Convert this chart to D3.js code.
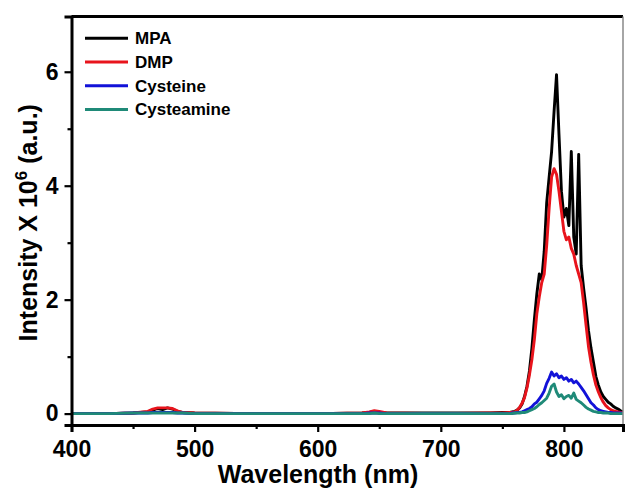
<!DOCTYPE html>
<html><head><meta charset="utf-8">
<script src="https://cdn.jsdelivr.net/npm/d3@7"></script>
<style>body{margin:0;background:#fff}svg{display:block}text{font-family:"Liberation Sans",Arial,sans-serif;font-weight:bold;fill:#000}</style>
</head><body><svg id="c" width="625" height="491"></svg>
<script>
const wavelengths = [400,430,450,462,466,470,474,478,482,486,490,500,550,600,636,642,646,650,656,700,740,750,
756,758,760,762,764,766,768,770,772,774,776,778,780,782,784,786,788,790,792,794,796,798,800,802,804,806,808,810,812,814,816,818,820,822,824,826,828,830,832,834,836,838,840,842,844,846,848];
const mpa = [0,0,0.01,0.03,0.06,0.09,0.07,0.1,0.08,0.04,0.02,0.01,0,0,0.01,0.02,0.04,0.02,0.01,0.01,0.01,0.02,
0.02,0.03,0.04,0.06,0.1,0.17,0.3,0.48,0.75,1.15,1.65,2.1,2.45,2.35,2.85,3.7,4.15,4.6,5.3,5.95,4.9,3.9,3.45,3.6,3.3,4.6,3.1,2.8,4.55,2.6,2.2,1.85,1.45,1.15,0.9,0.65,0.5,0.38,0.3,0.25,0.2,0.17,0.13,0.1,0.08,0.05,0.03];
const dmp = [0,0,0.01,0.04,0.08,0.1,0.1,0.1,0.09,0.05,0.02,0.01,0,0,0.01,0.03,0.05,0.04,0.01,0,0.01,0.01,
0.02,0.02,0.03,0.06,0.11,0.18,0.28,0.45,0.68,0.95,1.3,1.75,2.05,2.3,2.45,2.95,3.6,4.15,4.3,4.2,3.9,3.55,3.2,3.05,3.1,2.9,2.8,2.6,2.45,2.3,1.95,1.55,1.17,0.9,0.68,0.5,0.38,0.28,0.2,0.14,0.1,0.07,0.05,0.04,0.03,0.02,0.01];
const cysteine = [0,0,0.01,0.01,0.02,0.02,0.02,0.02,0.02,0.01,0.01,0,0,0,0,0.01,0.01,0.01,0,0,0,0,
0,0.01,0.01,0.02,0.02,0.03,0.05,0.07,0.09,0.12,0.17,0.2,0.26,0.32,0.4,0.53,0.62,0.73,0.66,0.7,0.63,0.66,0.6,0.63,0.57,0.6,0.54,0.57,0.52,0.46,0.4,0.33,0.26,0.19,0.15,0.1,0.07,0.05,0.04,0.03,0.02,0.02,0.01,0.01,0.01,0.01,0];
const cysteamine = [0,0,0.01,0.01,0.01,0.01,0.01,0.01,0.01,0.01,0.01,0,0,0,0,0,0.01,0,0,0,0,0,
0,0,0.01,0.01,0.01,0.02,0.02,0.03,0.05,0.07,0.09,0.12,0.16,0.19,0.23,0.27,0.36,0.48,0.52,0.38,0.3,0.33,0.26,0.3,0.32,0.27,0.36,0.25,0.22,0.19,0.15,0.11,0.08,0.06,0.04,0.03,0.02,0.02,0.01,0.01,0.01,0,0,0,0,0,0];
const seriesNames = ["MPA","DMP","Cysteine","Cysteamine"];
const seriesColors = ["#000000","#e8141c","#1212d8","#1f8a78"];
const xTicks = [400,500,600,700,800];
const yTicks = [0,2,4,6];

const seriesData = [mpa,dmp,cysteine,cysteamine];
const svg = d3.select("#c");
const L=71.5, R=623, T=16.5, B=425;
const x = d3.scaleLinear().domain([400,848]).range([L,R]);
const y = d3.scaleLinear().domain([-0.2,6.97]).range([B,T]);

const line = d3.line().x(d=>x(d[0])).y(d=>y(d[1]));
svg.append("defs").append("clipPath").attr("id","clip").append("rect").attr("x",L).attr("y",T).attr("width",R-L).attr("height",B-T);
const g = svg.append("g").attr("clip-path","url(#clip)");
seriesData.forEach((vals,i)=>{
  g.append("path").datum(wavelengths.map((w,j)=>[w,vals[j]]))
   .attr("d",line).attr("fill","none").attr("stroke",seriesColors[i])
   .attr("stroke-width",2.9).attr("stroke-linejoin","round");
});

// frame
svg.append("line").attr("x1",L).attr("x2",R).attr("y1",T).attr("y2",T).attr("stroke","#000").attr("stroke-width",3);
svg.append("line").attr("x1",R).attr("x2",R).attr("y1",T).attr("y2",B).attr("stroke","#888").attr("stroke-width",1.5);

// axes
const xAxis = d3.axisBottom(x).tickValues(xTicks).tickSize(7).tickPadding(9).tickFormat(d3.format("d"));
const xg = svg.append("g").attr("transform",`translate(0,${B})`).call(xAxis);
const xMinor = d3.axisBottom(x).tickValues([450,550,650,750]).tickSize(4).tickFormat("");
const xmg = svg.append("g").attr("transform",`translate(0,${B})`).call(xMinor);
const yAxis = d3.axisLeft(y).tickValues(yTicks).tickSize(7).tickPadding(6).tickFormat(d3.format("d"));
const yg = svg.append("g").attr("transform",`translate(${L},0)`).call(yAxis);
const yMinor = d3.axisLeft(y).tickValues([1,3,5]).tickSize(4).tickFormat("");
const ymg = svg.append("g").attr("transform",`translate(${L},0)`).call(yMinor);
[xg,xmg,yg,ymg].forEach(a=>{
  a.select(".domain").attr("stroke","#000").attr("stroke-width",3);
  a.selectAll(".tick line").attr("stroke","#000").attr("stroke-width",2.2);
  a.selectAll("text").attr("font-family","Liberation Sans, Arial, sans-serif").attr("font-weight","bold").attr("fill","#000");
});
xg.selectAll("text").attr("font-size",23);
yg.selectAll("text").attr("font-size",23);
xmg.select(".domain").remove(); ymg.select(".domain").remove();

// titles
svg.append("text").attr("x",318).attr("y",483).attr("text-anchor","middle").attr("font-size",25).text("Wavelength (nm)");
const yt = svg.append("text").attr("transform",`translate(37,${(T+B)/2+2}) rotate(-90)`).attr("text-anchor","middle").attr("font-size",25);
yt.append("tspan").text("Intensity X 10");
yt.append("tspan").attr("dy",-10).attr("font-size",17).text("6");
yt.append("tspan").attr("dy",10).text(" (a.u.)");

// legend
seriesNames.forEach((n,i)=>{
  const ly = 38.3 + i*23.7;
  svg.append("line").attr("x1",85).attr("x2",128).attr("y1",ly).attr("y2",ly).attr("stroke",seriesColors[i]).attr("stroke-width",3);
  svg.append("text").attr("x",135).attr("y",ly+6).attr("font-size",17).text(n);
});
</script></body></html>
